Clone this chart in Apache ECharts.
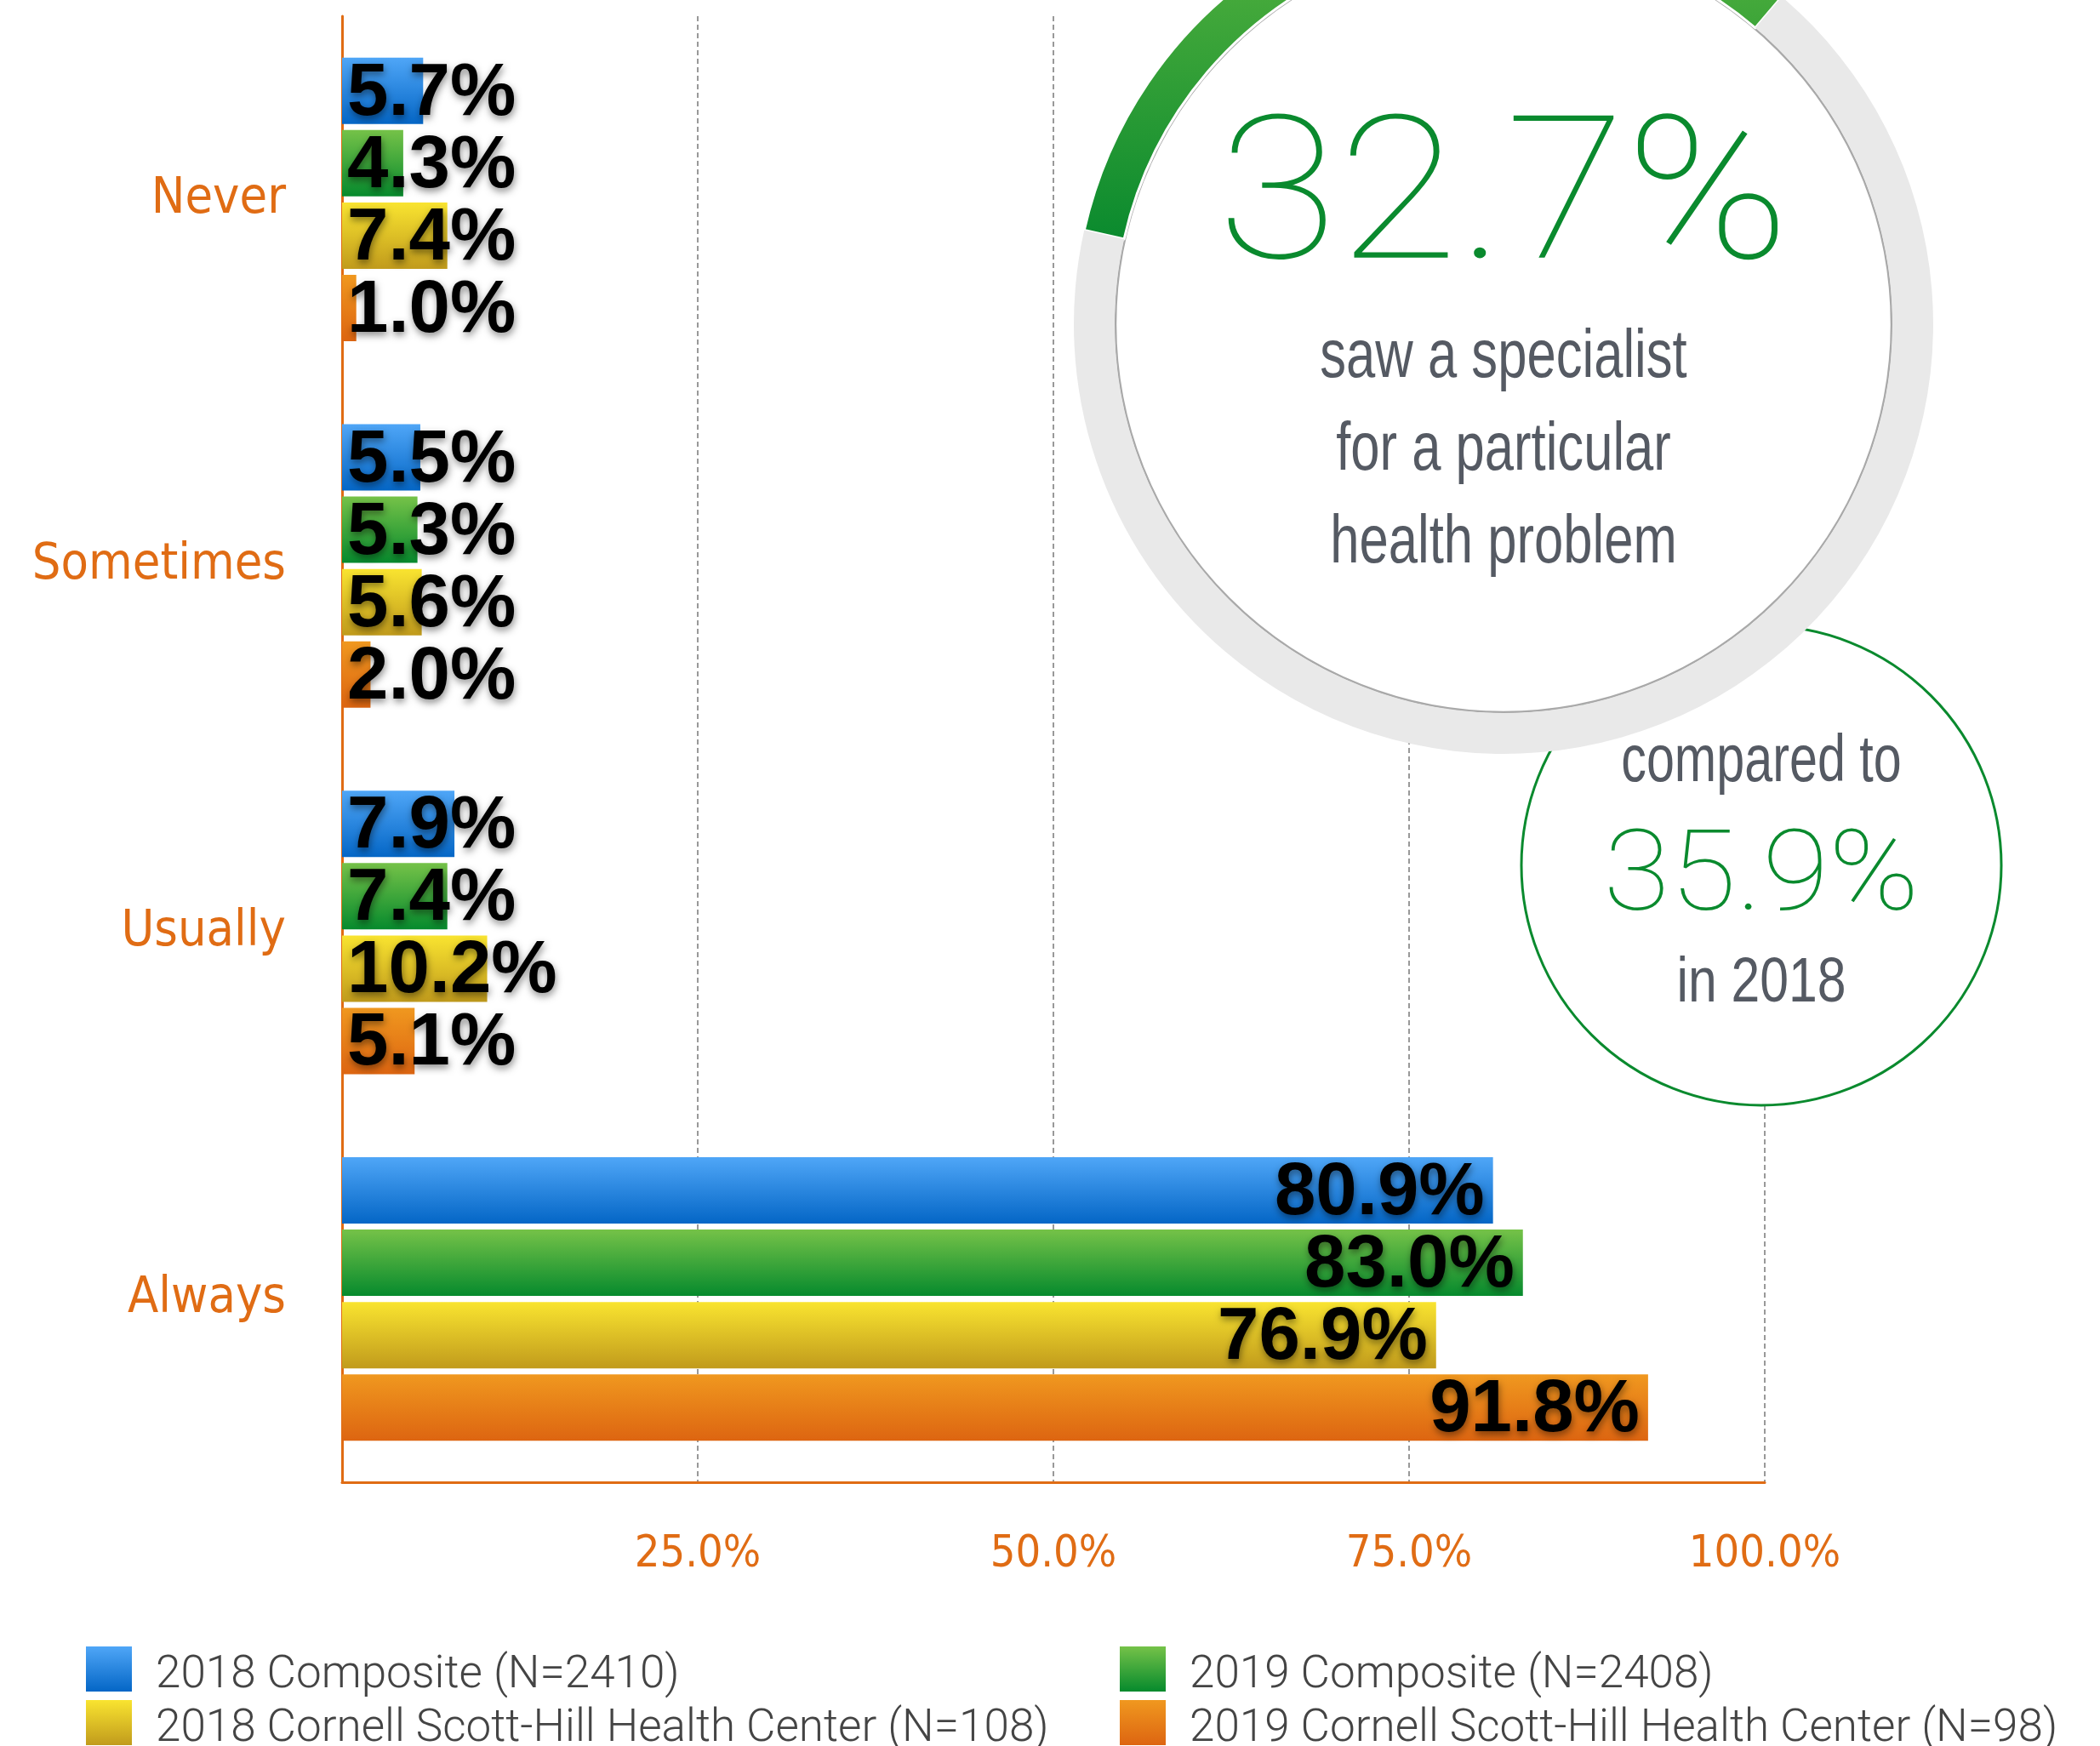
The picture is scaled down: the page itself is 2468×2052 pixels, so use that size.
<!DOCTYPE html>
<html>
<head>
<meta charset="utf-8">
<script src="https://cdn.jsdelivr.net/npm/echarts@6/dist/echarts.min.js"></script>
<style>
  html, body { margin: 0; padding: 0; background: #fff; }
  #chart { width: 2468px; height: 2052px; }
</style>
</head>
<body>
<div id="chart"></div>
<script>
// data
const categories = ['Never', 'Sometimes', 'Usually', 'Always'];
const seriesNames = [
  '2018 Composite (N=2410)',
  '2019 Composite (N=2408)',
  '2018 Cornell Scott-Hill Health Center (N=108)',
  '2019 Cornell Scott-Hill Health Center (N=98)'
];
const composite2018 = [5.7, 5.5, 7.9, 80.9];
const composite2019 = [4.3, 5.3, 7.4, 83.0];
const cornell2018 = [7.4, 5.6, 10.2, 76.9];
const cornell2019 = [1.0, 2.0, 5.1, 91.8];
const axisTicks = [0, 25, 50, 75, 100];
const specialistRate = 32.7;
const specialistRate2018 = 35.9;
const calloutLines = ['saw a specialist', 'for a particular', 'health problem'];
const compareLines = ['compared to', 'in 2018'];

const ORANGE = '#E06C14';
const GREEN = '#0A8A2E';
const GREY_TEXT = '#555A63';
const CONDENSED = '"DejaVu Sans Condensed", "Liberation Sans", sans-serif';
const SANS = '"Liberation Sans", Arial, sans-serif';
const THIN = 'Roboto, Lato, "Noto Sans", sans-serif';

const grad = (top, bottom) => new echarts.graphic.LinearGradient(0, 0, 0, 1, [
  { offset: 0, color: top },
  { offset: 1, color: bottom }
]);
const barColors = [
  grad('#4FA6F7', '#0466C6'),
  grad('#75C248', '#068A2D'),
  grad('#F9E430', '#C19B1C'),
  grad('#F0981F', '#DD6511')
];

const valueLabel = (pos) => ({
  show: true,
  position: pos,
  distance: pos === 'insideLeft' ? 6 : 10,
  offset: [0, 4],
  formatter: (p) => p.value.toFixed(1) + '%',
  fontFamily: SANS,
  fontWeight: 'bold',
  fontSize: 87,
  color: '#000',
  textShadowColor: 'rgba(0,0,0,0.45)',
  textShadowBlur: 8,
  textShadowOffsetX: 1,
  textShadowOffsetY: 4
});

const makeBar = (name, values, idx) => ({
  name: name,
  type: 'bar',
  barWidth: 78,
  barGap: '9%',
  itemStyle: { color: barColors[idx] },
  data: values.map((v, i) => ({
    value: v,
    label: valueLabel(i === categories.length - 1 ? 'insideRight' : 'insideLeft')
  }))
});

const chart = echarts.init(document.getElementById('chart'));

const cx = 1767, cy = 381;
const smallCx = 2070, smallCy = 1017;
const arcMid = 108.5;

const legendText = {
  fontFamily: THIN,
  fontWeight: 300,
  fontSize: 53,
  color: '#444',
  padding: [0, 0, 0, 23],
  rich: {
    t: {
      fontFamily: THIN,
      fontWeight: 300,
      fontSize: 53,
      color: '#444',
      padding: [16, 0, 0, 0]
    }
  }
};
const legendPos = [[101, 1935], [1316, 1935], [101, 1998], [1316, 1998]];
const legends = seriesNames.map((name, i) => ({
  data: [name],
  left: legendPos[i][0],
  top: legendPos[i][1],
  padding: 0,
  icon: 'rect',
  itemWidth: 54,
  itemHeight: 53,
  selectedMode: false,
  formatter: (n) => '{t|' + n + '}',
  textStyle: legendText
}));

const textEl = (text, x, y, size, color, family, weight, sx) => ({
  type: 'text', z: 10, x: x, y: y, scaleX: sx, silent: true,
  style: {
    text: text, fill: color, fontFamily: family, fontWeight: weight, fontSize: size,
    align: 'center', verticalAlign: 'middle'
  }
});

chart.setOption({
  animation: false,
  backgroundColor: '#fff',
  grid: { left: 402, top: 19, width: 1672, height: 1723, containLabel: false, outerBoundsMode: 'none' },
  xAxis: {
    type: 'value',
    min: axisTicks[0],
    max: axisTicks[axisTicks.length - 1],
    interval: axisTicks[1] - axisTicks[0],
    axisLine: { show: true, lineStyle: { color: ORANGE, width: 3 } },
    axisTick: { show: false },
    splitLine: { show: true, lineStyle: { color: '#999', width: 2, type: [6, 4] } },
    axisLabel: {
      showMinLabel: false,
      margin: 59,
      fontFamily: CONDENSED,
      fontSize: 52,
      color: ORANGE,
      formatter: (v) => v.toFixed(1) + '%'
    }
  },
  yAxis: {
    type: 'category',
    inverse: true,
    data: categories,
    axisLine: { show: true, lineStyle: { color: ORANGE, width: 3 } },
    axisTick: { show: false },
    axisLabel: { margin: 66, fontFamily: CONDENSED, fontSize: 59, color: ORANGE }
  },
  legend: legends,
  series: [
    makeBar(seriesNames[0], composite2018, 0),
    makeBar(seriesNames[1], composite2019, 1),
    makeBar(seriesNames[2], cornell2018, 2),
    makeBar(seriesNames[3], cornell2019, 3),
    {
      type: 'pie',
      z: 6,
      silent: true,
      center: [cx, cy],
      radius: [457, 505],
      startAngle: arcMid + specialistRate * 3.6 / 2,
      clockwise: true,
      label: { show: false },
      labelLine: { show: false },
      emphasis: { disabled: true },
      data: [
        {
          value: specialistRate,
          itemStyle: { color: grad('#5DB640', '#0A8A2E'), borderColor: '#fff', borderWidth: 3 }
        },
        { value: 100 - specialistRate, itemStyle: { color: '#E9E9E9' } }
      ]
    }
  ],
  graphic: [
    {
      type: 'circle', z: 4, silent: true,
      shape: { cx: smallCx, cy: smallCy, r: 282 },
      style: { fill: '#fff', stroke: GREEN, lineWidth: 3 }
    },
    {
      type: 'circle', z: 5, silent: true,
      shape: { cx: cx, cy: cy, r: 456 },
      style: { fill: '#fff', stroke: '#A9A9A9', lineWidth: 2.5 }
    },
    textEl(specialistRate.toFixed(1) + '%', cx, 244, 235, GREEN, THIN, 100, 1.1),
    ...calloutLines.map((t, i) => textEl(t, cx, 421 + i * 109, 80, GREY_TEXT, SANS, 'normal', 0.77)),
    textEl(compareLines[0], smallCx, 896, 78, GREY_TEXT, SANS, 'normal', 0.76),
    textEl(specialistRate2018.toFixed(1) + '%', smallCx, 1036, 132, GREEN, THIN, 100, 1.08),
    textEl(compareLines[1], smallCx, 1157, 74, GREY_TEXT, SANS, 'normal', 0.82)
  ]
});
</script>
</body>
</html>
